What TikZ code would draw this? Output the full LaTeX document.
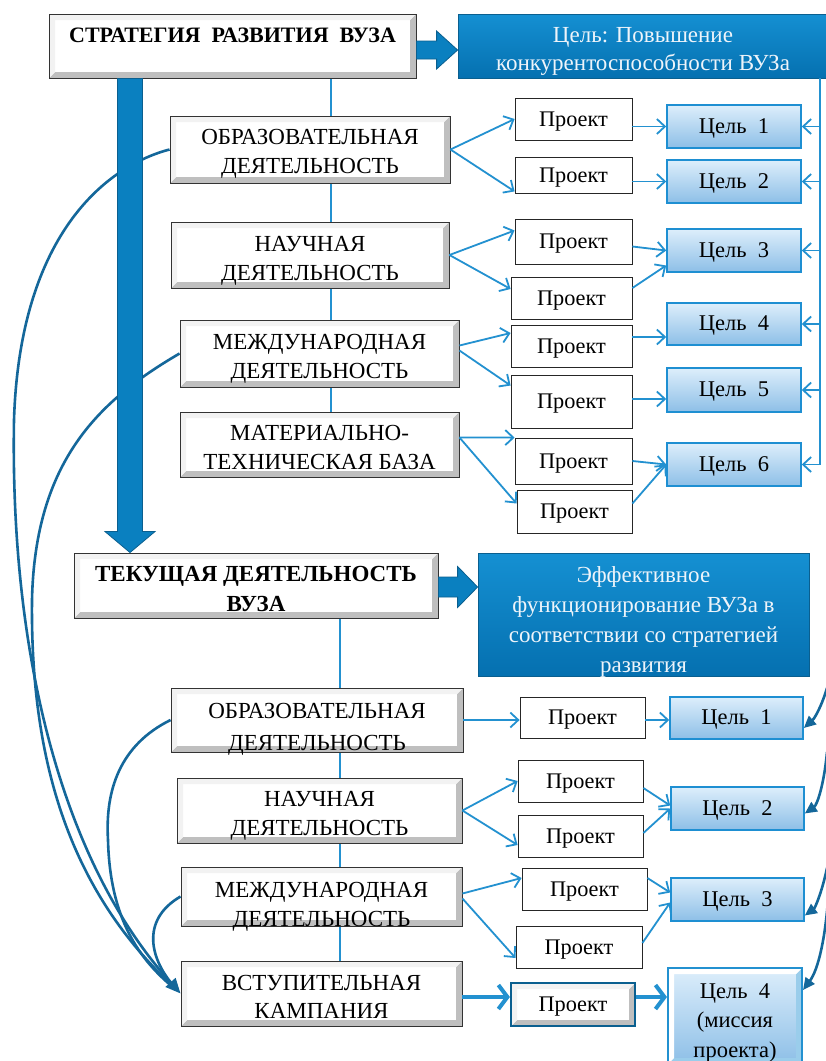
\documentclass[tikz,border=0pt]{standalone}
\usepackage{fontspec}
\setmainfont{Liberation Serif}
\usetikzlibrary{arrows.meta,calc}
\pgfdeclarelayer{back}
\pgfdeclarelayer{bg}
\pgfsetlayers{back,bg,main}
\definecolor{cLine}{HTML}{2391D0}
\definecolor{cCurve}{HTML}{14679A}
\definecolor{cBig}{HTML}{0A80C0}
\definecolor{cBigD}{HTML}{0A5F8F}
\definecolor{cBoxT}{HTML}{1590D2}
\definecolor{cBoxB}{HTML}{0570B0}
\definecolor{cGoalT}{HTML}{DDEEFB}
\definecolor{cGoalB}{HTML}{8DBFE7}
\definecolor{cGoalD}{HTML}{1E8FD2}
\definecolor{cTxtW}{HTML}{EEF4FA}
\newcommand\mybevel[2]{%
 \fill[#1] (path picture bounding box.south west) -- (path picture bounding box.south east) -- (path picture bounding box.north east) -- ([shift={(-6pt,-6pt)}]path picture bounding box.north east) -- ([shift={(-6pt,6pt)}]path picture bounding box.south east) -- ([shift={(6pt,6pt)}]path picture bounding box.south west) -- cycle;
 \fill[#2] (path picture bounding box.south west) -- (path picture bounding box.north west) -- (path picture bounding box.north east) -- ([shift={(-6pt,-6pt)}]path picture bounding box.north east) -- ([shift={(6pt,-6pt)}]path picture bounding box.north west) -- ([shift={(6pt,6pt)}]path picture bounding box.south west) -- cycle;}
\tikzset{
 lvl/.style={draw=black!80, line width=0.9pt, fill=white, inner sep=0pt, path picture={\mybevel{gray!50}{gray!10}}},
 lt/.style={align=center, inner sep=0pt, font=\fontsize{23}{29}\selectfont},
 ttl/.style={lvl, align=center, font=\fontsize{22}{30}\selectfont\bfseries},
 proj/.style={draw=black!85, line width=0.8pt, fill=white, inner sep=0pt, text depth=0pt, font=\fontsize{22.3}{26}\selectfont},
 projb/.style={proj, draw=cBigD, line width=2.2pt, path picture={\mybevel{gray!50}{gray!10}}},
 goal/.style={draw=cGoalD, line width=1.6pt, top color=cGoalT, bottom color=cGoalB, inner sep=0pt, text depth=1.5pt, font=\fontsize{22.5}{30}\selectfont},
 goalb/.style={goal, draw=cLine, line width=2pt, path picture={\mybevel{cGoalD!45}{white!60}}},
 bbox/.style={draw=cBigD, line width=0.8pt, top color=cBoxT, bottom color=cBoxB, inner sep=0pt},
 bt/.style={text=cTxtW, align=center, inner sep=0pt, font=\fontsize{23}{28}\selectfont},
 arr/.style={draw=cLine, line width=1.8pt, -{Straight Barb[length=8pt,width=15pt]}},
 link/.style={draw=cLine, line width=1.7pt},
 curve/.style={draw=cCurve, line width=2.6pt},
 bigarrow/.style={fill=cBig, draw=cBigD, line width=0.8pt},
 tharr/.style={draw=cLine, line width=4pt, -{Straight Barb[length=9pt,width=24pt]}},
}
\begin{document}
\begin{tikzpicture}[x=1pt,y=-1pt]
\useasboundingbox (0,0) rectangle (826,1061);
\begin{pgfonlayer}{back}
\fill[white] (0,0) rectangle (826,1061);
\end{pgfonlayer}

% ---------- top half ----------
\node[ttl, minimum width=367pt, minimum height=64pt, text depth=22pt] (s0) at (232.5,46) {СТРАТЕГИЯ\ \ РАЗВИТИЯ\ \ ВУЗА};
\node[bbox, minimum width=370pt, minimum height=64pt] (gt) at (643,46) {};
\node[bt] at ([yshift=-5.5pt]gt.center) {Цель: Повышение\\конкурентоспособности ВУЗа};

\node[lvl, minimum width=280pt, minimum height=67pt] (o1) at (310,149.5) {};
\node[lt] at ([yshift=-4.5pt]o1.center) {ОБРАЗОВАТЕЛЬНАЯ\\ДЕЯТЕЛЬНОСТЬ};
\node[lvl, minimum width=278pt, minimum height=66pt] (n1) at (310,255) {};
\node[lt] at ([yshift=-5.5pt]n1.center) {НАУЧНАЯ\\ДЕЯТЕЛЬНОСТЬ};
\node[lvl, minimum width=279pt, minimum height=67pt] (m1) at (319.5,353.5) {};
\node[lt] at ([yshift=-5.5pt]m1.center) {МЕЖДУНАРОДНАЯ\\ДЕЯТЕЛЬНОСТЬ};
\node[lvl, minimum width=279pt, minimum height=65pt] (t1) at (319.5,444.5) {};
\node[lt] at ([yshift=-3pt]t1.center) {МАТЕРИАЛЬНО-\\ТЕХНИЧЕСКАЯ БАЗА};

\node[proj, minimum width=117pt, minimum height=42pt] (p1) at (573.5,119) {Проект};
\node[proj, minimum width=117pt, minimum height=36pt] (p2) at (573.5,175) {Проект};
\node[proj, minimum width=117pt, minimum height=45pt] (p3) at (573.5,241.5) {Проект};
\node[proj, minimum width=121pt, minimum height=42pt] (p4) at (571.5,298) {Проект};
\node[proj, minimum width=121pt, minimum height=42pt] (p5) at (571.5,346) {Проект};
\node[proj, minimum width=121pt, minimum height=53pt] (p6) at (571.5,401.5) {Проект};
\node[proj, minimum width=117pt, minimum height=46pt] (p7) at (573.5,461) {Проект};
\node[proj, minimum width=115pt, minimum height=43pt] (p8) at (574.5,511.5) {Проект};

\node[goal, minimum width=134pt, minimum height=43pt] (g1) at (734,126.5) {Цель\ \ 1};
\node[goal, minimum width=134pt, minimum height=43pt] (g2) at (734,181.5) {Цель\ \ 2};
\node[goal, minimum width=134pt, minimum height=43pt] (g3) at (734,250.5) {Цель\ \ 3};
\node[goal, minimum width=134pt, minimum height=42pt] (g4) at (734,324) {Цель\ \ 4};
\node[goal, minimum width=134pt, minimum height=44pt] (g5) at (734,390) {Цель\ \ 5};
\node[goal, minimum width=134pt, minimum height=43pt] (g6) at (734,464.5) {Цель\ \ 6};

% ---------- bottom half ----------
\node[lvl, minimum width=364pt, minimum height=65pt] (s1) at (256,585.5) {};
\node[lt, font=\fontsize{23}{30}\selectfont\bfseries] at ([yshift=-3pt]s1.center) {ТЕКУЩАЯ ДЕЯТЕЛЬНОСТЬ\\ВУЗА};
\node[bbox, minimum width=331pt, minimum height=123pt] (gb) at (643.5,614.5) {};
\node[bt, font=\fontsize{23}{30}\selectfont] at ([yshift=-7.5pt]gb.center) {Эффективное\\функционирование ВУЗа в\\соответствии со стратегией\\развития};

\node[lvl, minimum width=292pt, minimum height=64pt] (b1) at (317,720) {};
\node[lt, font=\fontsize{23}{32}\selectfont] at ([yshift=-9pt]b1.center) {ОБРАЗОВАТЕЛЬНАЯ\\ДЕЯТЕЛЬНОСТЬ};
\node[lvl, minimum width=285pt, minimum height=65pt] (b2) at (319.5,810.5) {};
\node[lt] at ([yshift=-5.5pt]b2.center) {НАУЧНАЯ\\ДЕЯТЕЛЬНОСТЬ};
\node[lvl, minimum width=281pt, minimum height=59pt] (b3) at (321.5,896.5) {};
\node[lt] at ([yshift=-10pt]b3.center) {МЕЖДУНАРОДНАЯ\\ДЕЯТЕЛЬНОСТЬ};
\node[lvl, minimum width=281pt, minimum height=65pt] (b4) at (321.5,993.5) {};
\node[lt, font=\fontsize{23}{28}\selectfont] at ([yshift=-3.5pt]b4.center) {ВСТУПИТЕЛЬНАЯ\\КАМПАНИЯ};

\node[proj, minimum width=125pt, minimum height=41pt] (q1) at (582.5,717.5) {Проект};
\node[proj, minimum width=125pt, minimum height=42pt] (q2) at (580.5,781) {Проект};
\node[proj, minimum width=125pt, minimum height=42pt] (q3) at (580.5,836) {Проект};
\node[proj, minimum width=125pt, minimum height=42pt] (q4) at (584.5,889) {Проект};
\node[proj, minimum width=126pt, minimum height=42pt] (q5) at (579,947) {Проект};
\node[projb, minimum width=124pt, minimum height=43pt] (q6) at (573,1004.5) {Проект};

\node[goal, minimum width=133pt, minimum height=42pt] (h1) at (736.5,718) {Цель\ \ 1};
\node[goal, minimum width=133pt, minimum height=43pt] (h2) at (737.5,808.5) {Цель\ \ 2};
\node[goal, minimum width=133pt, minimum height=43pt] (h3) at (737.5,899.5) {Цель\ \ 3};
\node[goalb, minimum width=134pt, minimum height=96pt] (h4) at (735,1016) {};
\node[lt, font=\fontsize{22.5}{29.5}\selectfont] at ([yshift=-6.5pt]h4.center) {Цель\ \ 4\\(миссия\\проекта)};

% ---------- background lines and curves ----------
\begin{pgfonlayer}{bg}
\coordinate (vx) at (331,0);
\draw[link] (s0.south -| vx) -- (t1.north -| vx);
\coordinate (vx2) at (340,0);
\draw[link] (s1.south -| vx2) -- (b4.north -| vx2);
\draw[curve,-{Triangle[length=15pt,width=13pt]}] (o1.west) .. controls (110,165) and (20,230) .. (14,420) .. controls (10,650) and (60,860) .. (b4.west);
\draw[curve,shorten >=8pt] (m1.west) .. controls (100,400) and (35,460) .. (32,600) .. controls (30,780) and (80,900) .. (b4.west);
\draw[curve,shorten >=8pt] (b1.west) .. controls (120,745) and (105,790) .. (108,840) .. controls (110,920) and (140,960) .. (b4.west);
\draw[curve,shorten >=8pt] (b3.west) .. controls (140,920) and (150,960) .. (b4.west);
\end{pgfonlayer}

% ---------- big block arrows ----------
\coordinate (cx) at (130,0);
\coordinate (va) at (s0.south -| cx);
\coordinate (vb) at (s1.north -| cx);
\draw[bigarrow] ([xshift=-12.5pt]va) -- ([xshift=12.5pt]va) -- ([xshift=12.5pt,yshift=21pt]vb) -- ([xshift=25pt,yshift=21pt]vb) -- (vb) -- ([xshift=-25pt,yshift=21pt]vb) -- ([xshift=-12.5pt,yshift=21pt]vb) -- cycle;

\coordinate (ha) at ([yshift=-4pt]s0.east);
\coordinate (hb) at (gt.west |- ha);
\draw[bigarrow] ([yshift=9pt]ha) -- ([xshift=-21pt,yshift=9pt]hb) -- ([xshift=-21pt,yshift=19pt]hb) -- (hb) -- ([xshift=-21pt,yshift=-19pt]hb) -- ([xshift=-21pt,yshift=-9pt]hb) -- ([yshift=-9pt]ha) -- cycle;

\coordinate (ha2) at ([yshift=-1.5pt]s1.east);
\coordinate (hb2) at (gb.west |- ha2);
\draw[bigarrow] ([yshift=10pt]ha2) -- ([xshift=-20pt,yshift=10pt]hb2) -- ([xshift=-20pt,yshift=20.5pt]hb2) -- (hb2) -- ([xshift=-20pt,yshift=-20.5pt]hb2) -- ([xshift=-20pt,yshift=-10pt]hb2) -- ([yshift=-10pt]ha2) -- cycle;

% ---------- right bus (top) ----------
\coordinate (rx) at (820,0);
\draw[link] (gt.south -| rx) -- (g6.east -| rx);
\foreach \g in {g1,g2,g3,g4,g5,g6} \draw[arr] (\g.east -| rx) -- (\g.east);

% ---------- thin arrows top ----------
\draw[arr] (o1.east) -- (p1.west);
\draw[arr] (o1.east) -- ($(p2.south west)+(0,-2)$);
\draw[arr] (g1.west -| p1.east) -- (g1.west);
\draw[arr] (g2.west -| p2.east) -- (g2.west);
\draw[arr] (n1.east) -- ($(p3.west)+(0,-11)$);
\draw[arr] (n1.east) -- ($(p4.west)+(0,-9)$);
\draw[arr] ($(p3.east)+(0,5)$) -- (g3.west);
\draw[arr] ($(p4.east)+(0,-10)$) -- ($(g3.west)+(0,15)$);
\draw[arr] ($(m1.east)+(0,-8)$) -- ($(p5.west)+(0,-13)$);
\draw[arr] ($(m1.east)+(0,-3)$) -- ($(p6.west)+(0,-16)$);
\draw[arr] ($(p5.east)+(0,-9)$) -- ($(g4.west)+(0,13)$);
\draw[arr] ($(p6.east)+(0,-2.5)$) -- ($(g5.west)+(0,9)$);
\draw[arr] ($(t1.east)+(0,-7)$) -- (p7.north west);
\draw[arr] ($(t1.east)+(0,-7)$) -- ($(p8.west)+(0,-8)$);
\draw[arr] (p7.east) -- (g6.west);
\draw[arr] ($(p8.east)+(0,-8)$) -- (g6.west);

% ---------- thin arrows bottom ----------
\draw[arr] (b1.east) -- (q1.west |- b1.east);
\draw[arr] (q1.east |- b1.east) -- (h1.west |- b1.east);
\draw[arr] (b2.east) -- (q2.west);
\draw[arr] (b2.east) -- ($(q3.west)+(0,9)$);
\draw[arr] ($(q2.east)+(0,7)$) -- ($(h2.west)+(0,-3)$);
\draw[arr] ($(q3.east)+(0,-3)$) -- (h2.west);
\draw[arr] ($(b3.east)+(0,-3)$) -- ($(q4.west)+(0,-11)$);
\draw[arr] ($(b3.east)+(0,2)$) -- ($(q5.west)+(0,11)$);
\draw[arr] ($(q4.east)+(0,-11)$) -- ($(h3.west)+(0,-7)$);
\draw[arr] ($(q5.east)+(0,-4)$) -- ($(h3.west)+(0,3)$);
\coordinate (ty) at ($(b4.east)+(0,3.5)$);
\draw[tharr] (ty) -- (q6.west |- ty);
\draw[tharr] (q6.east |- ty) -- (h4.west |- ty);

% ---------- right curved arrows (bottom) ----------
\coordinate (e1) at (827,688);
\coordinate (e2) at (827,752);
\coordinate (e3) at (827,868);
\coordinate (e4) at (828,900);
\draw[curve,-{Triangle[length=12pt,width=11pt]}] (e1) .. controls (822,705) and (815,718) .. ($(h1.east)+(0,10)$);
\draw[curve,-{Triangle[length=12pt,width=11pt]}] (e2) .. controls (824,785) and (817,805) .. ($(h2.east)+(0,5)$);
\draw[curve,-{Triangle[length=12pt,width=11pt]}] (e3) .. controls (822,892) and (815,908) .. ($(h3.east)+(0,16)$);
\draw[curve,-{Triangle[length=12pt,width=11pt]}] (e4) .. controls (825,940) and (818,970) .. ($(h4.east)+(0,-26)$);
\end{tikzpicture}
\end{document}
